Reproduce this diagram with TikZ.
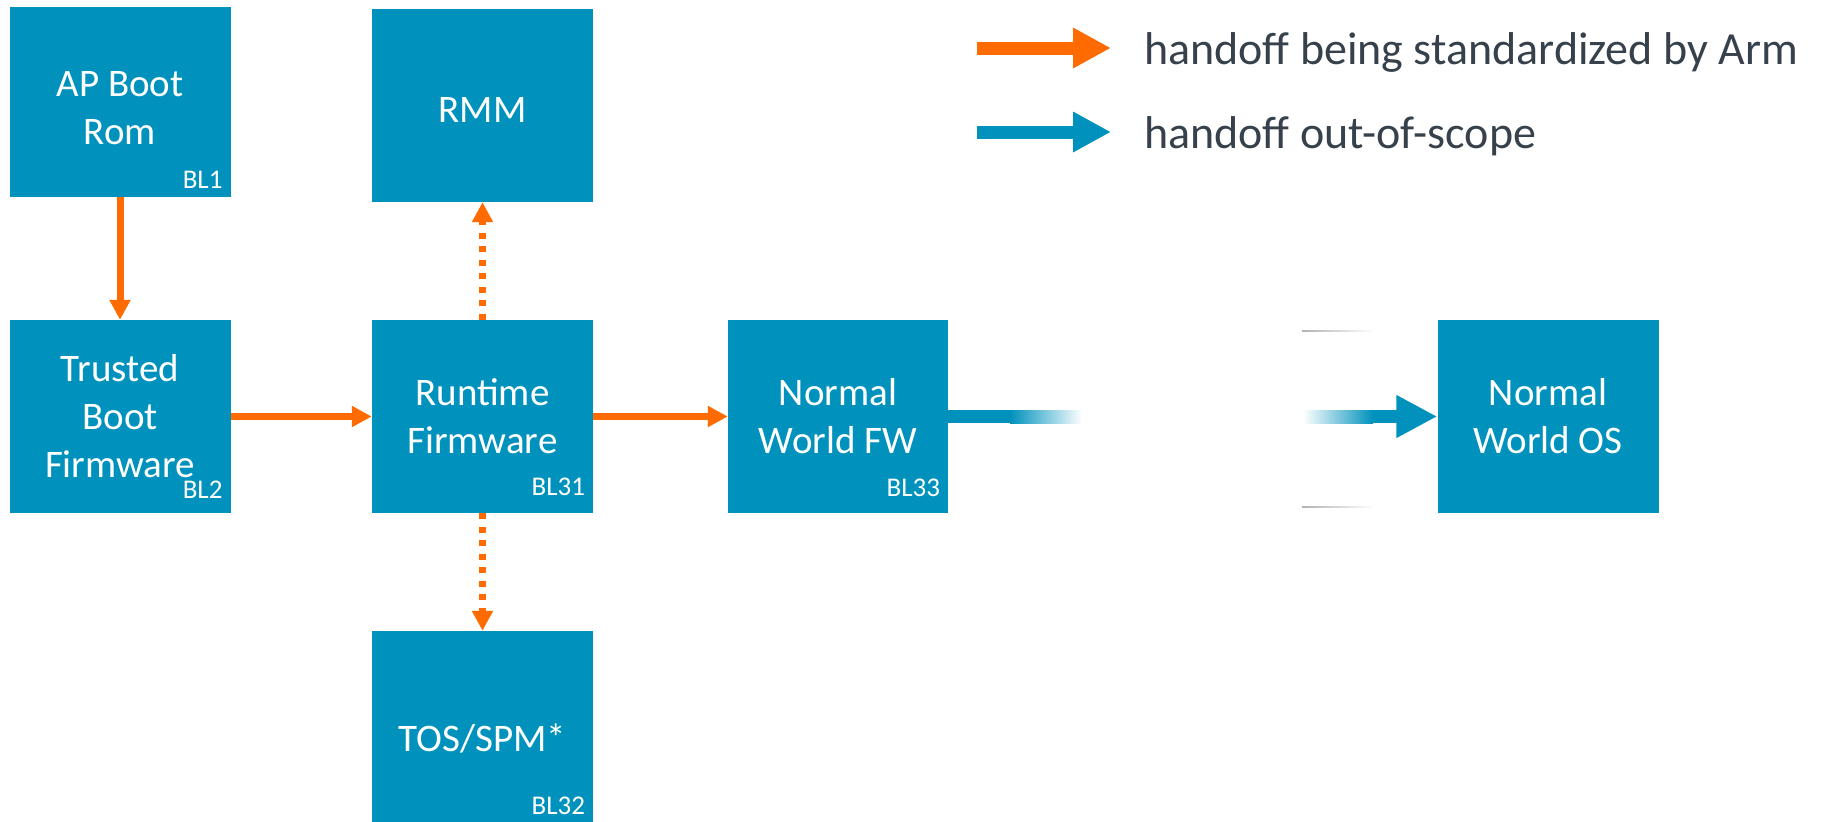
\documentclass[tikz,border=0pt]{standalone}
\usepackage{fontspec}
\setmainfont{Carlito}
\usetikzlibrary{arrows.meta}
\definecolor{armblue}{HTML}{0092BD}
\definecolor{armorange}{HTML}{FF6B00}
\definecolor{legtext}{HTML}{36414B}
\newcommand{\upstrut}[1]{\rule{0pt}{#1}}
\begin{document}
\begin{tikzpicture}[x=1pt,y=-1pt,
  box/.style={fill=armblue, text=white, minimum width=221pt, minimum height=193pt,
    inner sep=0pt, align=center, font=\fontsize{39}{48}\selectfont},
  bl/.style={text=white, inner sep=0pt, anchor=base east, font=\fontsize{27}{27}\selectfont},
  std/.style={draw=armorange, line width=7pt, -{Triangle[length=20pt,width=20pt]}},
  dotd/.style={std, dash pattern=on 6pt off 7.5pt},
  legarrow/.style={line width=13pt, -{Triangle[length=38pt,width=38pt]}},
  legtxt/.style={text=legtext, inner sep=0pt, anchor=base west, font=\fontsize{46}{50}\selectfont},
  ]
\useasboundingbox (0,0) rectangle (1840,822);

% boxes
\node[box, minimum height=190pt] (ap) at (120,102) {\upstrut{38pt}AP Boot\\Rom};
\node[box] (tb) at (120,416.5) {Trusted\\Boot\\Firmware};
\node[box] (rmm) at (482.5,105.5) {\upstrut{33pt}RMM};
\node[box] (rt) at (482.5,416.5) {Runtime\\Firmware};
\node[box, minimum width=220pt] (nwfw) at (838,416.5) {Normal\\World FW};
\node[box, minimum height=191pt] (tos) at (482.5,726.5) {\upstrut{52pt}TOS/SPM*};
\node[box] (nwos) at (1548,416.5) {Normal\\World OS};

% BL labels
\node[bl] (bl1) at ([shift={(-8,-9)}]ap.south east) {BL1};
\node[bl] (bl2) at ([shift={(-8,-15)}]tb.south east) {BL2};
\node[bl] (bl31) at ([shift={(-8,-18)}]rt.south east) {BL31};
\node[bl] (bl33) at ([shift={(-8,-17)}]nwfw.south east) {BL33};
\node[bl] (bl32) at ([shift={(-8,-8)}]tos.south east) {BL32};

% standardized handoffs
\draw[std] (ap.south) -- (tb.north);
\draw[std] (tb.east) -- (rt.west);
\draw[std] (rt.east) -- (nwfw.west);
\draw[dotd] (rt.north) -- (rmm.south);
\draw[dotd] (rt.south) -- (tos.north);

% out-of-scope handoff (faded, broken)
\path (nwfw.east) ++(62,0) coordinate (b1) ++(72,0) coordinate (b2);
\coordinate (b3) at (1303,416.5);
\coordinate (b4) at (1373,416.5);
\fill[armblue] ([yshift=6.5pt]nwfw.east) rectangle ([yshift=-6.5pt]b1);
\shade[left color=armblue, right color=white] ([yshift=6.5pt]b1) rectangle ([yshift=-6.5pt]b2);
\shade[left color=white, right color=armblue] ([yshift=6.5pt]b3) rectangle ([yshift=-6.5pt]b4);
\draw[armblue, line width=13pt, -{Triangle[length=41pt,width=40pt]}] ([xshift=-0.5pt]b4) -- (nwos.west);

% faint grey strokes
\shade[left color=black!30, right color=white] (1302,330.4) rectangle (1375,331.8);
\shade[left color=black!30, right color=white] (1302,506.4) rectangle (1375,507.8);

% legend
\coordinate (lo1) at (977,48);
\coordinate (lo2) at (1111,48);
\coordinate (lb1) at (977,132);
\coordinate (lb2) at (1111,132);
\draw[legarrow, armorange] (lo1) -- (lo2);
\draw[legarrow, armblue] (lb1) -- (lb2);
\node[legtxt] (lt1) at (1144,64) {handoff being standardized by Arm};
\node[legtxt] (lt2) at (1144,148) {handoff out-of-scope};
\end{tikzpicture}
\end{document}
